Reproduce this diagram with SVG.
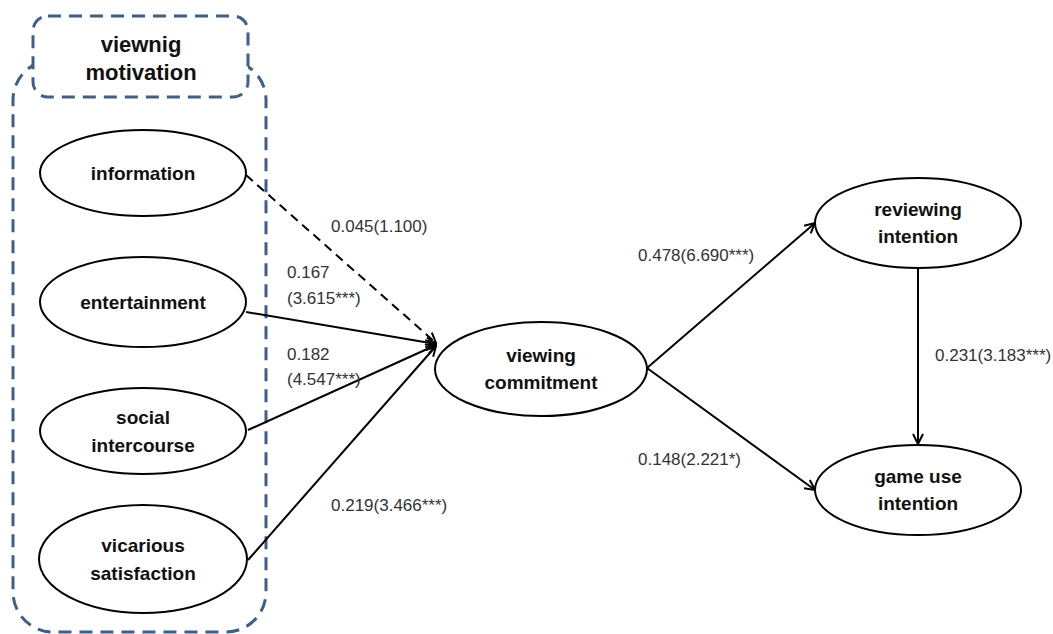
<svg xmlns="http://www.w3.org/2000/svg" width="1053" height="634" viewBox="0 0 1053 634">
<style>
.node{fill:#fff;stroke:#000;stroke-width:2}
.nt{font-family:"Liberation Sans",Arial,sans-serif;font-weight:bold;font-size:19px;fill:#111;text-anchor:middle}
.ht{font-family:"Liberation Sans",Arial,sans-serif;font-weight:bold;font-size:22px;fill:#111;text-anchor:middle}
.lb{font-family:"Liberation Sans",Arial,sans-serif;font-size:17px;fill:#333}
.grp{fill:none;stroke:#3d5f8c;stroke-width:3;stroke-dasharray:13,8}
.edge{stroke:#000;stroke-width:2;fill:none;marker-end:url(#ah)}
</style>
<defs>
<marker id="ah" viewBox="0 0 12 12" refX="11" refY="6" markerWidth="12" markerHeight="12" markerUnits="userSpaceOnUse" orient="auto">
<path d="M1,1 L11,6 L1,11" fill="none" stroke="#000" stroke-width="2"/>
</marker>
</defs>
<rect width="1053" height="634" fill="#fff"/>
<g id="group-box">
<rect class="grp" x="13" y="60" width="253" height="572" rx="40"/>
<rect x="33" y="16" width="215" height="81" rx="15" fill="#fff" stroke="none"/>
<rect class="grp" x="33" y="16" width="215" height="81" rx="15"/>
<text class="ht" x="141" y="52">viewnig</text>
<text class="ht" x="141" y="80">motivation</text>
</g>
<g id="connectors">
<line class="edge" x1="246" y1="175" x2="436" y2="343" stroke-dasharray="9,6"/>
<line class="edge" x1="246" y1="312" x2="436" y2="344"/>
<line class="edge" x1="248" y1="430" x2="436" y2="345"/>
<line class="edge" x1="248" y1="560" x2="436" y2="346"/>
<line class="edge" x1="647" y1="368" x2="815" y2="223"/>
<line class="edge" x1="647" y1="368" x2="815" y2="490"/>
<line class="edge" x1="918" y1="268" x2="918" y2="444"/>
<text class="lb" x="331" y="232">0.045(1.100)</text>
<text class="lb" x="287" y="278">0.167</text>
<text class="lb" x="287" y="304">(3.615***)</text>
<text class="lb" x="287" y="360">0.182</text>
<text class="lb" x="287" y="385">(4.547***)</text>
<text class="lb" x="331" y="511">0.219(3.466***)</text>
<text class="lb" x="638" y="261">0.478(6.690***)</text>
<text class="lb" x="638" y="465">0.148(2.221*)</text>
<text class="lb" x="935" y="361">0.231(3.183***)</text>
</g>
<g id="information"><ellipse class="node" cx="143" cy="173" rx="103" ry="43"/><text class="nt" x="143" y="180">information</text></g>
<g id="entertainment"><ellipse class="node" cx="143" cy="302" rx="103" ry="45"/><text class="nt" x="143" y="309">entertainment</text></g>
<g id="social"><ellipse class="node" cx="143" cy="431" rx="103" ry="43"/><text class="nt" x="143" y="424">social</text><text class="nt" x="143" y="452">intercourse</text></g>
<g id="vicarious"><ellipse class="node" cx="143" cy="559" rx="104" ry="54"/><text class="nt" x="143" y="552">vicarious</text><text class="nt" x="143" y="580">satisfaction</text></g>
<g id="commitment"><ellipse class="node" cx="541" cy="369" rx="106" ry="47"/><text class="nt" x="541" y="362">viewing</text><text class="nt" x="541" y="389">commitment</text></g>
<g id="reviewing"><ellipse class="node" cx="918" cy="223" rx="103" ry="45"/><text class="nt" x="918" y="216">reviewing</text><text class="nt" x="918" y="243">intention</text></g>
<g id="gameuse"><ellipse class="node" cx="918" cy="490" rx="103" ry="45"/><text class="nt" x="918" y="483">game use</text><text class="nt" x="918" y="510">intention</text></g>
</svg>
